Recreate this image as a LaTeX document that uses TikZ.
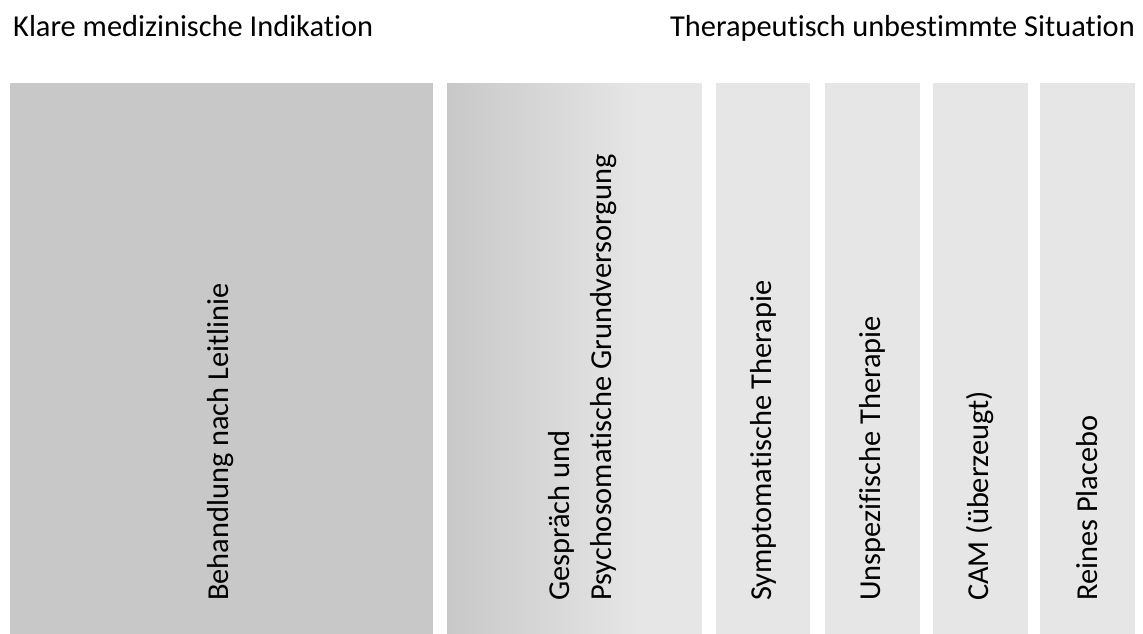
\documentclass[tikz,border=0pt]{standalone}
\usepackage{fontspec}
\setmainfont{Carlito}[Ligatures=NoCommon]
\begin{document}
\begin{tikzpicture}[x=1pt,y=-1pt,
  lbl/.style={font=\fontsize{30.4}{38}\selectfont, inner sep=0pt},
  vlbl/.style={font=\fontsize{30.4}{42}\selectfont, rotate=90, anchor=west, inner sep=0pt, align=left}]
\definecolor{dk}{HTML}{C8C8C8}
\definecolor{lt}{HTML}{E6E6E6}
\useasboundingbox (0,0) rectangle (1143,634);
\fill[dk] (10,83) rectangle (433,634);
\shade[left color=dk, right color=lt] (447,83) rectangle (641,634);
\fill[lt] (640,83) rectangle (702,634);
\fill[lt] (716,83) rectangle (810,634);
\fill[lt] (825,83) rectangle (920,634);
\fill[lt] (933,83) rectangle (1028,634);
\fill[lt] (1040,83) rectangle (1135,634);
\node[lbl, anchor=base west] (l) at (13,37) {Klare medizinische Indikation};
\node[lbl, anchor=base east] (r) at (1135,37) {Therapeutisch unbestimmte Situation};
\node[vlbl] (b1) at (221,601) {Behandlung nach Leitlinie};
\node[vlbl] (b2) at (583,601) {Gespräch und\\Psychosomatische Grundversorgung};
\node[vlbl] (b3) at (763,601) {Symptomatische Therapie};
\node[vlbl] (b4) at (872,601) {Unspezifische Therapie};
\node[vlbl] (b5) at (980,601) {CAM (überzeugt)};
\node[vlbl] (b6) at (1087,601) {Reines Placebo};
\end{tikzpicture}
\end{document}
